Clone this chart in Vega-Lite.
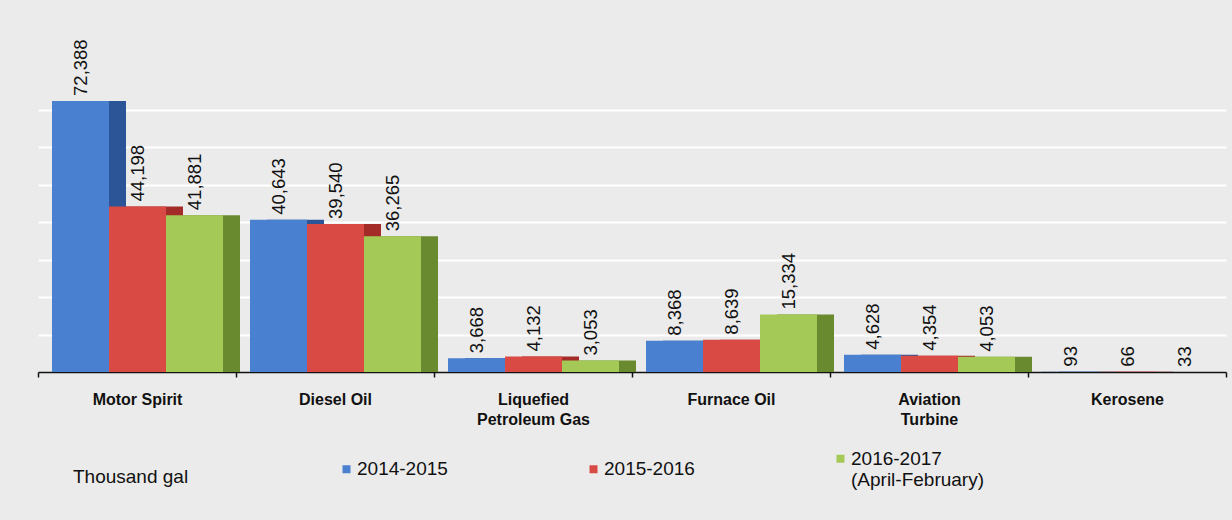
{
  "$schema": "https://vega.github.io/schema/vega-lite/v6.json",
  "autosize": "none",
  "width": 1188,
  "height": 337,
  "padding": {"left": 38, "top": 35, "right": 6, "bottom": 148},
  "background": "#ebebeb",
  "config": {
    "view": {"stroke": null},
    "font": "Liberation Sans"
  },
  "data": {
    "values": [
      {"fuel": "Motor Spirit", "period": "2014-2015", "value": 72388},
      {"fuel": "Motor Spirit", "period": "2015-2016", "value": 44198},
      {"fuel": "Motor Spirit", "period": "2016-2017 (April-February)", "value": 41881},
      {"fuel": "Diesel Oil", "period": "2014-2015", "value": 40643},
      {"fuel": "Diesel Oil", "period": "2015-2016", "value": 39540},
      {"fuel": "Diesel Oil", "period": "2016-2017 (April-February)", "value": 36265},
      {"fuel": "Liquefied Petroleum Gas", "period": "2014-2015", "value": 3668},
      {"fuel": "Liquefied Petroleum Gas", "period": "2015-2016", "value": 4132},
      {"fuel": "Liquefied Petroleum Gas", "period": "2016-2017 (April-February)", "value": 3053},
      {"fuel": "Furnace Oil", "period": "2014-2015", "value": 8368},
      {"fuel": "Furnace Oil", "period": "2015-2016", "value": 8639},
      {"fuel": "Furnace Oil", "period": "2016-2017 (April-February)", "value": 15334},
      {"fuel": "Aviation Turbine", "period": "2014-2015", "value": 4628},
      {"fuel": "Aviation Turbine", "period": "2015-2016", "value": 4354},
      {"fuel": "Aviation Turbine", "period": "2016-2017 (April-February)", "value": 4053},
      {"fuel": "Kerosene", "period": "2014-2015", "value": 93},
      {"fuel": "Kerosene", "period": "2015-2016", "value": 66},
      {"fuel": "Kerosene", "period": "2016-2017 (April-February)", "value": 33}
    ]
  },
  "encoding": {
    "x": {
      "field": "fuel",
      "type": "nominal",
      "sort": null,
      "scale": {"paddingInner": 0, "paddingOuter": 0},
      "axis": {
        "title": null,
        "labelAngle": 0,
        "labelFont": "Liberation Sans",
        "labelFontWeight": "bold",
        "labelFontSize": 16,
        "labelColor": "#111111",
        "labelPadding": 14,
        "labelLineHeight": 20,
        "labelExpr": "datum.label == 'Liquefied Petroleum Gas' ? ['Liquefied', 'Petroleum Gas'] : datum.label == 'Aviation Turbine' ? ['Aviation', 'Turbine'] : datum.label",
        "labelBaseline": "top",
        "domainColor": "#111111",
        "domainWidth": 1.5,
        "tickColor": "#111111",
        "tickWidth": 1.5,
        "tickSize": 5,
        "tickBand": "extent",
        "grid": false
      }
    },
    "y": {
      "field": "value",
      "type": "quantitative",
      "scale": {"domain": [0, 90000], "nice": false},
      "axis": {
        "title": null,
        "labels": false,
        "ticks": false,
        "domain": false,
        "grid": true,
        "gridColor": "#ffffff",
        "gridWidth": 2,
        "values": [10000, 20000, 30000, 40000, 50000, 60000, 70000]
      }
    }
  },
  "layer": [
    {
      "mark": {"type": "bar"},
      "encoding": {
        "xOffset": {
          "field": "period",
          "type": "nominal",
          "sort": null,
          "scale": {"paddingInner": 0, "paddingOuter": 0, "range": [31, 202]}
        },
        "color": {
          "field": "period",
          "type": "nominal",
          "sort": null,
          "scale": {"range": ["#2c5597", "#a32c29", "#6a8a30"]},
          "legend": null
        }
      }
    },
    {
      "mark": {"type": "bar"},
      "encoding": {
        "xOffset": {
          "field": "period",
          "type": "nominal",
          "sort": null,
          "scale": {"paddingInner": 0, "paddingOuter": 0, "range": [14, 185]}
        },
        "color": {
          "field": "period",
          "type": "nominal",
          "sort": null,
          "scale": {"range": ["#4a80d0", "#d94a44", "#a4c957"]},
          "legend": {
            "orient": "none",
            "legendX": 35,
            "legendY": 414,
            "direction": "horizontal",
            "title": "Thousand gal",
            "titleOrient": "left",
            "titleFont": "Liberation Sans",
            "titleFontWeight": "normal",
            "titleFontSize": 19,
            "titleColor": "#111111",
            "titlePadding": 148,
            "titleBaseline": "top",
            "symbolType": "square",
            "symbolSize": 64,
            "symbolStrokeWidth": 0,
            "symbolOffset": 0,
            "labelFont": "Liberation Sans",
            "labelFontSize": 19,
            "labelColor": "#111111",
            "labelOffset": 1,
            "labelLineHeight": 22,
            "labelLimit": 300,
            "labelBaseline": "top",
            "labelExpr": "datum.label == '2016-2017 (April-February)' ? ['2016-2017', '(April-February)'] : datum.label",
            "gridAlign": "all",
            "columnPadding": 93,
            "encode": {
              "labels": {"update": {"dy": {"value": -9}}},
              "title": {"update": {"dy": {"value": -1}}}
            }
          }
        }
      }
    },
    {
      "mark": {
        "type": "text",
        "angle": 270,
        "align": "left",
        "baseline": "middle",
        "dx": 5,
        "font": "Liberation Sans",
        "fontSize": 18.5,
        "color": "#111111"
      },
      "encoding": {
        "xOffset": {
          "field": "period",
          "type": "nominal",
          "sort": null,
          "scale": {"padding": 0, "range": [42.5, 156.5]}
        },
        "text": {"field": "value", "type": "quantitative", "format": ",d"}
      }
    }
  ],
  "resolve": {"scale": {"color": "independent", "xOffset": "independent"}}
}
